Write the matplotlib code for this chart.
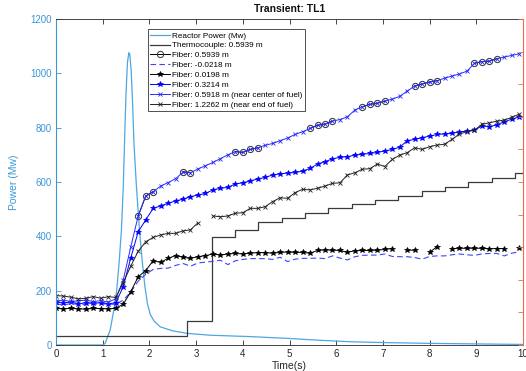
import numpy as np
import matplotlib
matplotlib.use("Agg")
import matplotlib.pyplot as plt

nan = np.nan

# reactor power trace (Mw)
power_t = [0.0, 1.0, 1.05, 1.16, 1.25, 1.30, 1.35, 1.40, 1.44, 1.47, 1.50, 1.53, 1.56,
           1.58, 1.61, 1.64, 1.67, 1.72, 1.78, 1.84, 1.90, 1.96, 2.02, 2.10, 2.23,
           2.50, 2.80, 3.30, 4.15, 5.00, 5.58, 6.30, 7.00, 8.00, 9.00, 10.0]
power_mw = [0, 0, 5, 55, 140, 202, 300, 420, 580, 760, 930, 1040, 1076,
            1070, 1010, 890, 740, 590, 440, 320, 220, 150, 112, 88, 67,
            52, 43, 36, 31, 24, 18, 12, 9, 6, 4, 2]

# thermocouple steps
tc_t = [0.0, 2.80, 3.33, 3.83, 4.33, 4.83, 5.33, 5.83, 6.33, 6.83, 7.33, 7.83, 8.33,
        8.83, 9.33, 9.83, 10.0]
tc_val = [33, 89, 396, 423, 451, 469, 486, 503, 519, 534, 550, 567, 583,
          599, 616, 632, 632]

# fiber sample times (s)
time_s = [0.00, 0.16, 0.32, 0.48, 0.64, 0.80, 0.96, 1.12, 1.28, 1.44, 1.60, 1.76, 1.92,
          2.08, 2.24, 2.40, 2.56, 2.72, 2.88, 3.04, 3.20, 3.36, 3.52, 3.68, 3.84, 4.00,
          4.16, 4.32, 4.48, 4.64, 4.80, 4.96, 5.12, 5.28, 5.44, 5.60, 5.76, 5.92, 6.08,
          6.24, 6.40, 6.56, 6.72, 6.88, 7.04, 7.20, 7.36, 7.52, 7.68, 7.84, 8.00, 8.16,
          8.32, 8.48, 8.64, 8.80, 8.96, 9.12, 9.28, 9.44, 9.60, 9.76, 9.92]

fiber_05939 = [nan] * 11 + [475, 548, 564, nan, nan, nan, 638, 634, nan, nan, nan, nan,
               nan, 712, 709, 720, 726, nan, nan, nan, nan, nan, nan, 797, 809, 813, 824,
               nan, nan, nan, 877, 886, 890, 898, nan, nan, nan, 953, 961, 968, 973, nan,
               nan, nan, nan, 1037, 1043, 1045, 1054, nan, nan, nan]

fiber_m00218 = [150, 148, 152, 150, 148, 150, 152, 150, 150, 165, 195, 235, 260,
                278, 282, 283, 293, 300, 290, 302, 305, 308, 312, 296, 310, 315,
                318, 318, 318, 315, 323, 307, 316, 319, 319, 320, 318, 328, 320,
                313, 325, 330, 331, 331, 335, 326, 325, 325, 322, 316, 326, 328,
                328, 332, 335, 332, 330, 335, 337, 337, 328, 338, 343]

fiber_00198 = [135, 133, 135, 133, 132, 135, 134, 133, 135, 150, 196, 251, 274,
               310, 304, 319, 329, 323, 319, 325, 329, 335, 331, 335, 337, 335,
               338, 340, 340, 338, 341, 342, 341, 341, 338, 348, 350, 349, 348,
               341, 347, 348, 348, 349, 352, 355, nan, 349, 349, nan, 341, 362,
               nan, 355, 356, 356, 356, 356, 354, 355, 355, nan, 356]

fiber_03214 = [157, 155, 158, 152, 155, 153, 156, 152, 155, 215, 320, 417, 460,
               503, 512, 522, 530, 537, 546, 552, 558, 571, 577, 580, 593, 597,
               604, 611, 617, 626, 630, 633, 635, 640, 650, 666, 675, 685, 691,
               693, 699, 702, 705, 709, 714, 720, 728, 752, 757, 763, 769, 775,
               777, 779, 785, 787, 791, 806, 804, 810, 822, 831, 840]

fiber_05918 = [162, 165, 160, 163, 165, 160, 163, 158, 170, 240, 360, 475, 548,
               564, 585, 598, 612, 636, 634, 648, 660, 672, 686, 700, 712, 709,
               720, 726, 735, 742, 752, 762, 775, 785, 797, 809, 813, 824, 830,
               840, 865, 877, 886, 890, 898, 905, 915, 935, 953, 961, 968, 973,
               982, 990, 998, 1008, 1037, 1043, 1045, 1054, 1060, 1066, 1072]

fiber_12262 = [182, 180, 176, 170, 172, 178, 172, 178, 175, 230, 290, 345, 380,
               396, 405, 411, 411, 420, 424, 450, nan, 475, 472, 475, 485, 487,
               503, 503, 509, 528, 542, 540, 561, 573, 571, 577, 585, 595, 597,
               626, 634, 647, 649, 666, 657, 683, 699, 708, 726, 720, 730, 736,
               739, 757, 777, 785, 791, 812, 818, 824, 828, 838, 850]

left_color = "#3a96d8"
power_color = "#4ba8e2"
right_color = "#e8704a"
dark = "#262626"

plt.rcParams["font.family"] = ["Liberation Sans", "DejaVu Sans"]

fig = plt.figure(figsize=(5.26, 3.71), dpi=100)
ax = fig.add_axes([56 / 526, 26 / 371, 467 / 526, 326 / 371])

ax.plot(power_t, power_mw, color=power_color, lw=0.9, label="Reactor Power (Mw)")
ax.step(tc_t, tc_val, where="post", color="#3a3a3a", lw=0.9, label="Thermocouple: 0.5939 m")
ax.plot(time_s, fiber_05939, color="k", lw=0.7, marker="o", ms=4.5, mfc="none",
        mec="#333333", mew=0.7, label="Fiber: 0.5939 m")
ax.plot(time_s, fiber_m00218, color="#4040ff", lw=0.8, ls=(0, (5, 3)), label="Fiber: -0.0218 m")
ax.plot(time_s, fiber_00198, color="k", lw=0.7, marker="*", ms=4, mew=0.5,
        label="Fiber: 0.0198 m")
ax.plot(time_s, fiber_03214, color="#0000ff", lw=0.7, marker="*", ms=4, mew=0.5,
        label="Fiber: 0.3214 m")
ax.plot(time_s, fiber_05918, color="#2a2aff", lw=0.7, marker="x", ms=2.5, mew=0.6,
        label="Fiber: 0.5918 m (near center of fuel)")
ax.plot(time_s, fiber_12262, color="#222222", lw=0.7, marker="x", ms=2.5, mew=0.6,
        label="Fiber: 1.2262 m (near end of fuel)")

ax.set_xlim(0, 10)
ax.set_ylim(0, 1200)
ax.set_xticks(range(0, 11))
ax.set_yticks(range(0, 1201, 200))
ax.tick_params(axis="x", direction="in", length=3.5, width=0.6, colors=dark,
               labelsize=7, top=True, pad=3)
ax.tick_params(axis="y", direction="in", length=3.5, width=0.6, colors=left_color,
               labelsize=7, right=False, pad=3)
for side in ("top", "bottom"):
    ax.spines[side].set_color(dark)
    ax.spines[side].set_linewidth(0.6)
ax.spines["left"].set_color(left_color)
ax.spines["left"].set_linewidth(0.8)
ax.spines["right"].set_visible(False)

ax.set_xlabel("Time(s)", fontsize=7.5, color=dark, labelpad=1)
ax.set_ylabel("Power (Mw)", fontsize=7.5, color=left_color, labelpad=8)
ax.set_title("Transient: TL1", fontsize=7.5, fontweight="bold", color="#111111", pad=5)

rax = ax.twinx()
rax.set_ylim(0, 10)
rax.set_yticks(range(0, 11))
rax.tick_params(axis="y", direction="in", length=3.5, width=0.6, colors=right_color,
                labelright=False)
for side in ("top", "bottom", "left"):
    rax.spines[side].set_visible(False)
rax.spines["right"].set_color(right_color)
rax.spines["right"].set_linewidth(0.8)

leg = ax.legend(loc="upper left", bbox_to_anchor=(0.197, 0.968), fontsize=5.9,
                frameon=True, fancybox=False, edgecolor="#333333", framealpha=1,
                handlelength=2.4, handletextpad=0.2, labelspacing=0.26,
                borderpad=0.3, borderaxespad=0)
leg.get_frame().set_linewidth(0.6)

fig.savefig("out.png", dpi=100)
